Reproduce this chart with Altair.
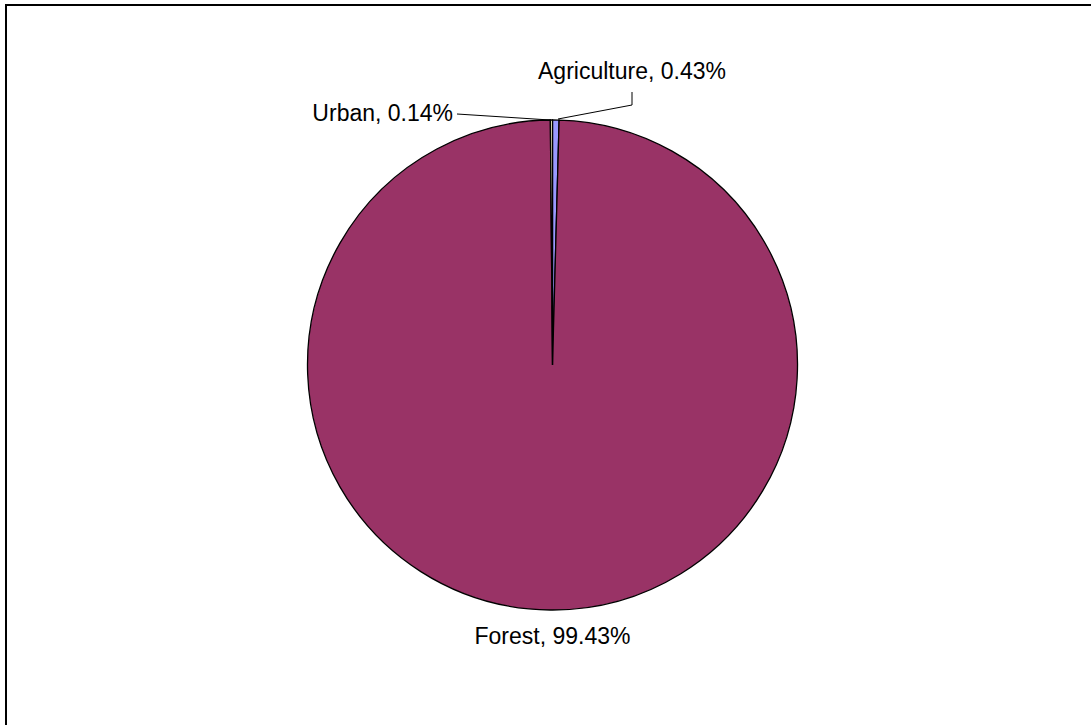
import altair as alt
import pandas as pd

categories = ["Agriculture", "Forest", "Urban"]
shares = [0.43, 99.43, 0.14]
colors = ["#9999FF", "#993366", "#FFFFCC"]

df = pd.DataFrame({
    "category": categories,
    "share": shares,
    "idx": list(range(len(categories))),
})
df["label"] = [f"{c}, {v:.2f}%" for c, v in zip(categories, shares)]

W, H = 1091, 725
CX, CY, R = 552.5, 365, 245
FONT = "Liberation Sans"
FS = 23

base = alt.Chart(df)

pie = base.mark_arc(outerRadius=R, stroke="black", strokeWidth=1.3).encode(
    theta=alt.Theta("share:Q", stack=True),
    order=alt.Order("idx:Q"),
    color=alt.Color("category:N", scale=alt.Scale(domain=categories, range=colors), legend=None),
    x=alt.value(CX),
    y=alt.value(CY),
)

def label(cat, x, y, align):
    return base.transform_filter(alt.datum.category == cat).mark_text(
        font=FONT, fontSize=FS, align=align, baseline="alphabetic", color="black"
    ).encode(text="label:N", x=alt.value(x), y=alt.value(y))

lab_agr = label("Agriculture", 632, 79, "center")
lab_urb = label("Urban", 453, 121, "right")
lab_for = label("Forest", 552.5, 644, "center")

one = base.transform_filter(alt.datum.category == "Forest")

def seg(x1, y1, x2, y2):
    return one.mark_rule(color="black", strokeWidth=1).encode(
        x=alt.value(x1), y=alt.value(y1), x2=alt.value(x2), y2=alt.value(y2)
    )

leaders = [
    seg(457, 114, 550, 120),
    seg(558, 119, 632, 105),
    seg(632, 105, 632, 92),
]

frame = one.mark_rect(fill="transparent", stroke="black", strokeWidth=2).encode(
    x=alt.value(6), y=alt.value(5), x2=alt.value(W + 20), y2=alt.value(H + 20)
)

chart = alt.layer(frame, pie, *leaders, lab_agr, lab_urb, lab_for).properties(
    width=W, height=H, autosize=alt.AutoSizeParams(type="none"), padding=0,
    background="white",
).configure_view(stroke=None)

chart.save("out.html", embed_options={"renderer": "svg", "actions": False})
